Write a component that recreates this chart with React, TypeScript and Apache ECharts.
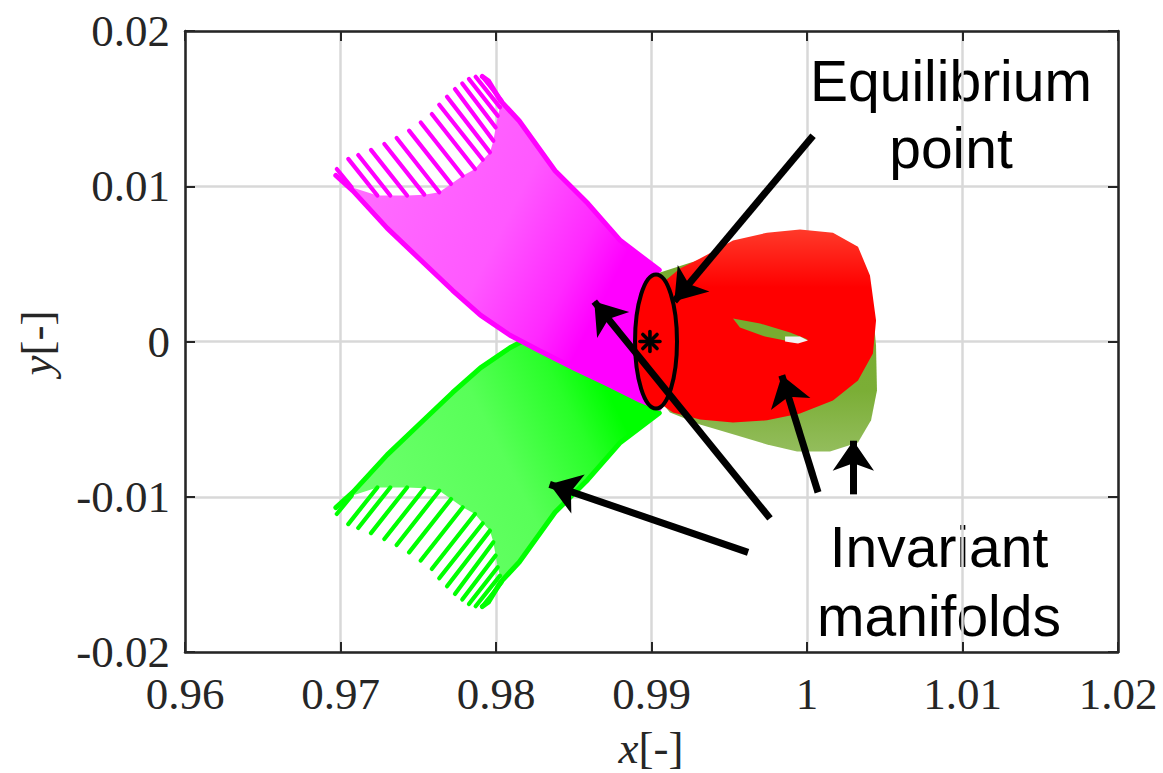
import React, { useEffect, useRef } from 'react';
import * as echarts from 'echarts';

// ---------- axis ticks ----------
const xTickLabels = ['0.96', '0.97', '0.98', '0.99', '1', '1.01', '1.02'];
const yTickLabels = ['-0.02', '-0.01', '0', '0.01', '0.02'];

// ---------- magenta manifold (upper-left) ----------
// strands at the far end: [xStart, yStart, xEnd, yEnd]
const magentaStrands = [
  [0.96976, 0.01111, 0.97072, 0.00993],
  [0.9705, 0.01176, 0.97237, 0.0094],
  [0.97114, 0.01201, 0.9732, 0.0094],
  [0.97196, 0.01234, 0.97428, 0.0094],
  [0.97282, 0.01272, 0.97539, 0.00946],
  [0.97361, 0.01311, 0.97635, 0.00961],
  [0.97441, 0.01358, 0.97711, 0.01015],
  [0.97516, 0.01411, 0.97786, 0.01068],
  [0.97587, 0.01465, 0.97865, 0.01111],
  [0.97635, 0.01525, 0.97915, 0.01171],
  [0.97685, 0.01577, 0.97961, 0.01218],
  [0.97736, 0.01626, 0.97983, 0.01293],
  [0.97783, 0.01662, 0.97998, 0.01379],
  [0.97826, 0.01691, 0.98011, 0.01454],
  [0.97869, 0.01705, 0.98026, 0.01508],
  [0.97912, 0.01707, 0.98037, 0.01551],
];
const magentaMesh = [
  [0.97072, 0.00993], [0.97237, 0.0094], [0.9732, 0.0094], [0.97428, 0.0094], [0.97539, 0.00946],
  [0.97635, 0.00961], [0.97711, 0.01015], [0.97786, 0.01068], [0.97865, 0.01111], [0.97915, 0.01171],
  [0.97961, 0.01218], [0.97983, 0.01293], [0.97998, 0.01379], [0.98011, 0.01454], [0.98026, 0.01508],
  [0.98037, 0.01551], [0.9815, 0.0142], [0.9838, 0.011], [0.9859, 0.0089], [0.988, 0.0065],
  [0.9905, 0.0046], [0.9909, 0.0], [0.9905, -0.0043], [0.9893, -0.0038], [0.9871, -0.0027],
  [0.985, -0.0017], [0.9828, -0.0006], [0.9809, 0.0004], [0.979, 0.0017], [0.9772, 0.0033],
  [0.9751, 0.0053], [0.973, 0.0073], [0.9708, 0.0097],
];
const magentaUpperEdge = [
  [0.97912, 0.01707], [0.9795, 0.0168], [0.9803, 0.0155], [0.9815, 0.0142], [0.9838, 0.011],
  [0.9859, 0.0089], [0.988, 0.0065], [0.9905, 0.0046],
];
const magentaLowerEdge = [
  [0.9697, 0.0107], [0.9708, 0.0097], [0.973, 0.0073], [0.9751, 0.0053], [0.9772, 0.0033],
  [0.979, 0.0017], [0.9809, 0.0004], [0.9828, -0.0006], [0.985, -0.0017], [0.9871, -0.0027],
  [0.9893, -0.0038], [0.9905, -0.0043],
];

// ---------- green manifold (lower-left) ----------
const greenStrands = [
  [0.96976, -0.01111, 0.97072, -0.00993],
  [0.9705, -0.01176, 0.97237, -0.0094],
  [0.97114, -0.01201, 0.9732, -0.0094],
  [0.97196, -0.01234, 0.97428, -0.0094],
  [0.97282, -0.01272, 0.97539, -0.00946],
  [0.97361, -0.01311, 0.97635, -0.00961],
  [0.97441, -0.01358, 0.97711, -0.01015],
  [0.97516, -0.01411, 0.97786, -0.01068],
  [0.97587, -0.01465, 0.97865, -0.01111],
  [0.97635, -0.01525, 0.97915, -0.01171],
  [0.97685, -0.01577, 0.97961, -0.01218],
  [0.97736, -0.01626, 0.97983, -0.01293],
  [0.97783, -0.01662, 0.97998, -0.01379],
  [0.97826, -0.01691, 0.98011, -0.01454],
  [0.97869, -0.01705, 0.98026, -0.01508],
  [0.97912, -0.01707, 0.98037, -0.01551],
];
const greenMesh = [
  [0.97072, -0.00993], [0.97237, -0.0094], [0.9732, -0.0094], [0.97428, -0.0094], [0.97539, -0.00946],
  [0.97635, -0.00961], [0.97711, -0.01015], [0.97786, -0.01068], [0.97865, -0.01111], [0.97915, -0.01171],
  [0.97961, -0.01218], [0.97983, -0.01293], [0.97998, -0.01379], [0.98011, -0.01454], [0.98026, -0.01508],
  [0.98037, -0.01551], [0.9815, -0.0142], [0.9838, -0.011], [0.9859, -0.0089], [0.988, -0.0065],
  [0.9905, -0.0046], [0.9909, 0.0], [0.9905, 0.0043], [0.9893, 0.0038], [0.9871, 0.0027],
  [0.985, 0.0017], [0.9828, 0.0006], [0.9809, -0.0004], [0.979, -0.0017], [0.9772, -0.0033],
  [0.9751, -0.0053], [0.973, -0.0073], [0.9708, -0.0097],
];
const greenLowerEdge = [
  [0.97912, -0.01707], [0.9795, -0.0168], [0.9803, -0.0155], [0.9815, -0.0142], [0.9838, -0.011],
  [0.9859, -0.0089], [0.988, -0.0065], [0.9905, -0.0046],
];
const greenUpperEdge = [
  [0.9697, -0.0107], [0.9708, -0.0097], [0.973, -0.0073], [0.9751, -0.0053], [0.9772, -0.0033],
  [0.979, -0.0017], [0.9809, -0.0004], [0.9828, 0.0006], [0.985, 0.0017],
];

// ---------- right-hand manifolds ----------
const oliveRegion = [
  [0.99055, 0.00444], [0.99248, 0.00508], [0.99441, 0.00553], [0.99698, 0.00586], [1.00084, 0.00586],
  [1.00341, 0.00457], [1.00418, 0.00264], [1.00444, -0.00026], [1.0045, -0.00315], [1.00412, -0.00508],
  [1.00328, -0.0065], [1.00148, -0.00708], [0.99936, -0.00708], [0.99743, -0.00663], [0.99524, -0.00598],
  [0.99312, -0.00534], [0.99119, -0.00457], [0.99055, -0.0038],
];
const redRegion = [
  [0.99074, 0.0038], [0.99183, 0.0047], [0.99312, 0.00534], [0.99524, 0.0065], [0.99743, 0.00701],
  [0.99955, 0.00721], [1.00167, 0.00701], [1.00328, 0.00611], [1.00405, 0.00425], [1.00444, 0.00135],
  [1.00424, -0.00077], [1.00328, -0.00251], [1.00167, -0.0038], [0.99955, -0.00463], [0.99743, -0.00508],
  [0.99524, -0.00521], [0.99312, -0.00502], [0.99138, -0.00457], [0.99074, -0.00412],
];
const innerSlit = [
  [0.99524, 0.00148], [0.99698, 0.00116], [0.99891, 0.00058], [1.00006, 0.00013], [0.99923, -0.00006],
  [0.9973, 0.00032], [0.99569, 0.0009],
];
const innerGap = [
  [0.99859, 0.00032], [0.99955, 0.00032], [1.00006, 0.00006], [0.99942, -0.00013], [0.99859, 0.0],
];

// ---------- periodic orbit & equilibrium ----------
const orbit = [[0.99029, 0.0, 0.00135, 0.00431]]; // centre x, centre y, semi-axis x, semi-axis y
const equilibrium = [[0.9899, 0.0]];

// ---------- arrows: [xTail, yTail, xHead, yHead] ----------
const arrows = [
  [1.00039, 0.013256, 0.99147, 0.00259],
  [0.99762, -0.01139, 0.98632, 0.00257],
  [0.99621, -0.01358, 0.98345, -0.0092],
  [1.00071, -0.009717, 0.99838, -0.00218],
  [1.00298, -0.009846, 1.00298, -0.00639],
];

const AXIS = '#262626';

function polygon(name: string, pts: number[][], fill: any, z: number) {
  return {
    type: 'custom',
    name,
    z,
    silent: true,
    coordinateSystem: 'cartesian2d',
    data: [pts[0]],
    renderItem: (_p: any, api: any) => ({
      type: 'polygon',
      shape: { points: pts.map((p) => api.coord(p)) },
      style: { fill, stroke: 'none' },
    }),
  };
}

function edge(name: string, pts: number[][], color: string, z: number, width: number) {
  return {
    type: 'line',
    name,
    z,
    silent: true,
    data: pts,
    showSymbol: false,
    symbol: 'none',
    lineStyle: { color, width, cap: 'round', join: 'round' },
  };
}

function strands(name: string, rows: number[][], color: string, z: number) {
  return {
    type: 'custom',
    name,
    z,
    silent: true,
    coordinateSystem: 'cartesian2d',
    data: rows,
    renderItem: (_p: any, api: any) => {
      const a = api.coord([api.value(0), api.value(1)]);
      const b = api.coord([api.value(2), api.value(3)]);
      return {
        type: 'line',
        shape: { x1: a[0], y1: a[1], x2: b[0], y2: b[1] },
        style: { stroke: color, lineWidth: 4.2, lineCap: 'round' },
      };
    },
  };
}

export default function App() {
  const ref = useRef<HTMLDivElement>(null);
  useEffect(() => {
    if (!ref.current) return;
    const chart = echarts.init(ref.current, undefined, { renderer: 'svg' });
    const axisCommon = {
      type: 'value',
      axisLine: { show: true, onZero: false, lineStyle: { color: AXIS, width: 2.5 } },
      axisTick: { show: true, inside: true, length: 10, lineStyle: { color: AXIS, width: 2 } },
    };
    const serif = 'Liberation Serif, Times New Roman, serif';
    const magentaFill = new echarts.graphic.LinearGradient(0, 0.25, 1, 0.75, [
      { offset: 0, color: '#FF6EFF' },
      { offset: 0.45, color: '#FF58FF' },
      { offset: 0.68, color: '#FF28FF' },
      { offset: 0.8, color: '#FF00FF' },
      { offset: 1, color: '#FF00FF' },
    ]);
    const greenFill = new echarts.graphic.LinearGradient(0, 0.75, 1, 0.25, [
      { offset: 0, color: '#6EFF6E' },
      { offset: 0.45, color: '#58FF58' },
      { offset: 0.68, color: '#28FF28' },
      { offset: 0.8, color: '#00FF00' },
      { offset: 1, color: '#00FF00' },
    ]);
    const oliveFill = new echarts.graphic.LinearGradient(0, 0, 0, 1, [
      { offset: 0, color: '#77AC30' },
      { offset: 0.7, color: '#7BAE36' },
      { offset: 1, color: '#93BD5C' },
    ]);
    const redFill = new echarts.graphic.LinearGradient(0, 0, 0, 1, [
      { offset: 0, color: '#FF3A2A' },
      { offset: 0.3, color: '#FF0000' },
      { offset: 1, color: '#FF0000' },
    ]);
    const option: any = {
      animation: false,
      backgroundColor: '#ffffff',
      grid: { left: 185, right: 45, top: 31, bottom: 121 },
      xAxis: [
        {
          ...axisCommon,
          min: 0.96,
          max: 1.02,
          interval: 0.01,
          position: 'bottom',
          axisLabel: {
            margin: 19,
            color: AXIS,
            fontFamily: serif,
            fontSize: 45,
            formatter: (v: number) => xTickLabels[Math.round((v - 0.96) / 0.01)],
          },
          splitLine: { show: true, lineStyle: { color: '#D8D8D8', width: 2.5 } },
        },
        {
          ...axisCommon,
          min: 0.96,
          max: 1.02,
          interval: 0.01,
          position: 'top',
          axisLabel: { show: false },
          splitLine: { show: false },
        },
      ],
      yAxis: [
        {
          ...axisCommon,
          min: -0.02,
          max: 0.02,
          interval: 0.01,
          position: 'left',
          axisLabel: {
            margin: 15,
            color: AXIS,
            fontFamily: serif,
            fontSize: 45,
            formatter: (v: number) => yTickLabels[Math.round((v + 0.02) / 0.01)],
          },
          splitLine: { show: true, lineStyle: { color: '#D8D8D8', width: 2.5 } },
        },
        {
          ...axisCommon,
          min: -0.02,
          max: 0.02,
          interval: 0.01,
          position: 'right',
          axisLabel: { show: false },
          splitLine: { show: false },
        },
      ],
      series: [
        // green tube
        polygon('greenMesh', greenMesh, greenFill, 2),
        strands('greenStrands', greenStrands, '#00FF00', 4),
        edge('greenLower', greenLowerEdge, '#00FF00', 4, 5),
        edge('greenUpper', greenUpperEdge, '#00FF00', 4, 5),
        // magenta tube
        polygon('magentaMesh', magentaMesh, magentaFill, 5),
        strands('magentaStrands', magentaStrands, '#FF00FF', 7),
        edge('magentaUpper', magentaUpperEdge, '#FF00FF', 7, 5),
        edge('magentaLower', magentaLowerEdge, '#FF00FF', 7, 5),
        // right tubes
        polygon('olive', oliveRegion, oliveFill, 8),
        polygon('red', redRegion, redFill, 9),
        polygon('slit', innerSlit, '#77AC30', 10),
        polygon('gap', innerGap, '#F2F2F2', 10),
        // periodic orbit
        {
          type: 'custom',
          name: 'orbit',
          z: 11,
          silent: true,
          coordinateSystem: 'cartesian2d',
          data: orbit,
          renderItem: (_p: any, api: any) => {
            const c = api.coord([api.value(0), api.value(1)]);
            const s = api.size([api.value(2), api.value(3)]);
            return {
              type: 'ellipse',
              shape: { cx: c[0], cy: c[1], rx: s[0], ry: s[1] },
              style: { fill: '#FF0000', stroke: '#000000', lineWidth: 4 },
            };
          },
        },
        // equilibrium point
        {
          type: 'custom',
          name: 'equilibrium',
          z: 12,
          silent: true,
          coordinateSystem: 'cartesian2d',
          data: equilibrium,
          renderItem: (_p: any, api: any) => {
            const c = api.coord([api.value(0), api.value(1)]);
            const r = 10;
            const d = r * 0.7071;
            const st = { stroke: '#000000', lineWidth: 3.6, lineCap: 'round' };
            return {
              type: 'group',
              children: [
                { type: 'line', shape: { x1: c[0], y1: c[1] - r, x2: c[0], y2: c[1] + r }, style: st },
                { type: 'line', shape: { x1: c[0] - r, y1: c[1], x2: c[0] + r, y2: c[1] }, style: st },
                { type: 'line', shape: { x1: c[0] - d, y1: c[1] - d, x2: c[0] + d, y2: c[1] + d }, style: st },
                { type: 'line', shape: { x1: c[0] - d, y1: c[1] + d, x2: c[0] + d, y2: c[1] - d }, style: st },
              ],
            };
          },
        },
        // arrows
        {
          type: 'line',
          name: 'arrows',
          z: 30,
          data: [],
          silent: true,
          markLine: {
            z: 40,
            silent: true,
            symbol: ['none', 'arrow'],
            symbolSize: [31, 30],
            label: { show: false },
            emphasis: { disabled: true },
            lineStyle: { color: '#000000', width: 7, type: 'solid', opacity: 1 },
            data: arrows.map((a) => [{ coord: [a[0], a[1]] }, { coord: [a[2], a[3]] }]),
          },
        },
      ],
      graphic: [
        {
          type: 'text',
          x: 37,
          y: 343,
          rotation: Math.PI / 2,
          style: {
            text: '{i|y}{n|[-]}',
            align: 'center',
            verticalAlign: 'middle',
            fill: AXIS,
            rich: {
              i: { fontFamily: serif, fontStyle: 'italic', fontSize: 45, fill: AXIS },
              n: { fontFamily: serif, fontSize: 45, fill: AXIS },
            },
          },
        },
        {
          type: 'text',
          x: 651,
          y: 748,
          style: {
            text: '{i|x}{n|[-]}',
            align: 'center',
            verticalAlign: 'middle',
            fill: AXIS,
            rich: {
              i: { fontFamily: serif, fontStyle: 'italic', fontSize: 45, fill: AXIS },
              n: { fontFamily: serif, fontSize: 45, fill: AXIS },
            },
          },
        },
        {
          type: 'text', x: 951, y: 81,
          style: { text: 'Equilibrium', font: '57px "Liberation Sans", Arial, sans-serif', fill: '#000', align: 'center', verticalAlign: 'middle' },
        },
        {
          type: 'text', x: 951, y: 148,
          style: { text: 'point', font: '57px "Liberation Sans", Arial, sans-serif', fill: '#000', align: 'center', verticalAlign: 'middle' },
        },
        {
          type: 'text', x: 939, y: 547,
          style: { text: 'Invariant', font: '57px "Liberation Sans", Arial, sans-serif', fill: '#000', align: 'center', verticalAlign: 'middle' },
        },
        {
          type: 'text', x: 939, y: 616,
          style: { text: 'manifolds', font: '57px "Liberation Sans", Arial, sans-serif', fill: '#000', align: 'center', verticalAlign: 'middle' },
        },
      ],
    };
    chart.setOption(option);
    return () => chart.dispose();
  }, []);
  return (
    <div
      ref={ref}
      style={{ position: 'absolute', left: 0, top: 0, width: 1163, height: 773, background: '#fff' }}
    />
  );
}
